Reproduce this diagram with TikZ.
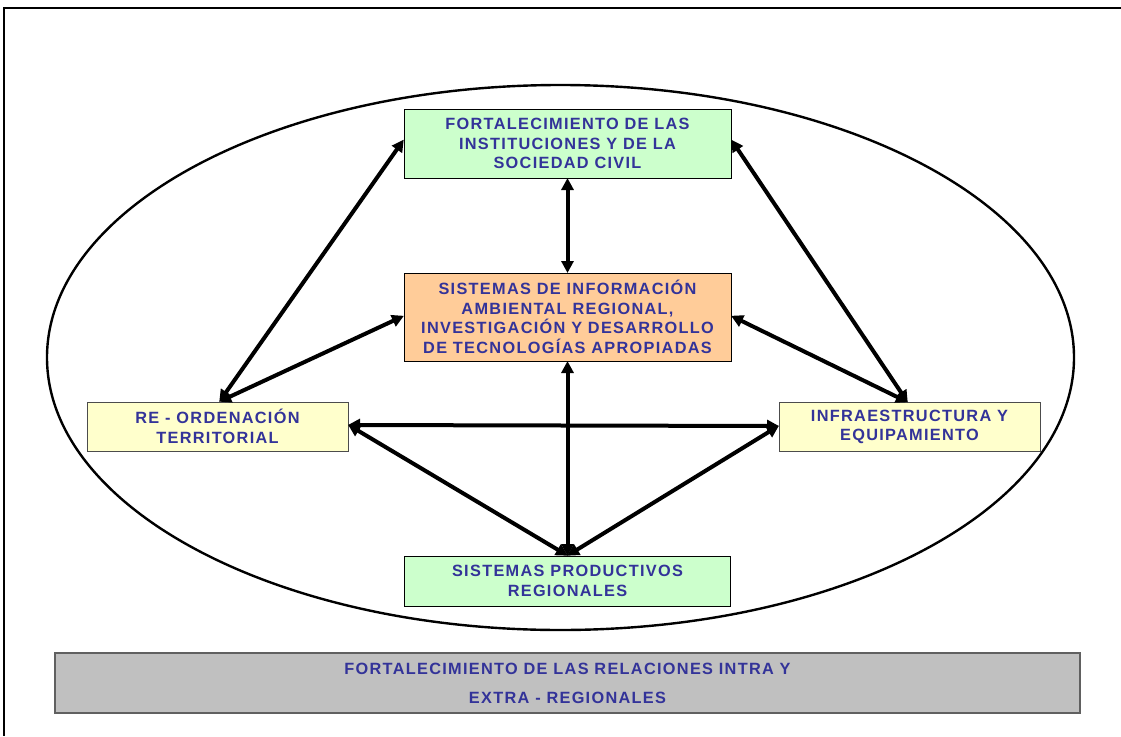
\documentclass[tikz,border=0pt]{standalone}
\usepackage{fontspec}
\setmainfont{Liberation Sans}[LetterSpace=8]
\usetikzlibrary{arrows.meta}
\definecolor{txtblue}{HTML}{333399}
\definecolor{boxgreen}{HTML}{CCFFCC}
\definecolor{boxorange}{HTML}{FFCC99}
\definecolor{boxyellow}{HTML}{FFFFCC}
\definecolor{bargray}{HTML}{C0C0C0}
\definecolor{bardark}{HTML}{606060}
\begin{document}
\begin{tikzpicture}[x=1pt,y=-1pt,
  boxstyle/.style={draw=black,line width=1pt,rectangle,inner sep=0pt,align=center,
    text=txtblue,font=\fontsize{16.3}{19.5}\selectfont\bfseries},
  link/.style={line width=4pt,{Triangle[length=12pt,width=12pt]}-{Triangle[length=12pt,width=12pt]},shorten <=-0.5pt,shorten >=-0.5pt}]
\useasboundingbox (0,0) rectangle (1121,736);
\fill[white] (0,0) rectangle (1121,736);
% frame
\draw[line width=2.2pt] (1121,8) -- (4,8) -- (4,736);
% ellipse
\draw[line width=2.4pt] (560.5,357.5) ellipse [x radius=513.5, y radius=272.5];
% boxes
\node[boxstyle,fill=boxgreen,minimum width=327pt,minimum height=69pt] (top) at (567.5,143.5)
  {FORTALECIMIENTO DE LAS\\INSTITUCIONES Y DE LA\\SOCIEDAD CIVIL};
\node[boxstyle,fill=boxorange,minimum width=327pt,minimum height=88pt] (mid) at (567.5,317)
  {SISTEMAS DE INFORMACIÓN\\AMBIENTAL REGIONAL,\\INVESTIGACIÓN Y DESARROLLO\\DE TECNOLOGÍAS APROPIADAS};
\node[boxstyle,fill=boxyellow,draw=black!70,minimum width=261pt,minimum height=49pt] (left) at (217.5,426.5)
  {RE - ORDENACIÓN\\TERRITORIAL};
\node[boxstyle,fill=boxyellow,draw=black!70,minimum width=261pt,minimum height=49pt] (right) at (909.5,427)
  {INFRAESTRUCTURA Y\\EQUIPAMIENTO};
\node[boxstyle,fill=boxgreen,minimum width=326pt,minimum height=50pt] (bot) at (567.5,581)
  {SISTEMAS PRODUCTIVOS\\REGIONALES};
\node[boxstyle,fill=bargray,draw=bardark,line width=1.8pt,minimum width=1025pt,minimum height=60pt,
  font=\fontsize{16.3}{29}\selectfont\bfseries] (bar) at (567.5,683)
  {FORTALECIMIENTO DE LAS RELACIONES INTRA Y\\EXTRA - REGIONALES};
% connectors
\draw[link] (top.south) -- (mid.north);
\draw[link] (mid.south) -- (bot.north);
\draw[link] ([xshift=2pt]left.north) -- ([yshift=3.5pt]top.west);
\draw[link] ([xshift=-2pt]right.north) -- ([yshift=3.5pt]top.east);
\draw[link] ([xshift=2pt]left.north) -- ([yshift=1pt]mid.west);
\draw[link] ([xshift=-2pt]right.north) -- ([yshift=1pt]mid.east);
\draw[link] ([yshift=1.5pt]left.east) -- ([yshift=1pt]right.west);
\draw[link] (bot.north) -- ([yshift=1.5pt]left.east);
\draw[link] (bot.north) -- ([yshift=1pt]right.west);
\end{tikzpicture}
\end{document}
